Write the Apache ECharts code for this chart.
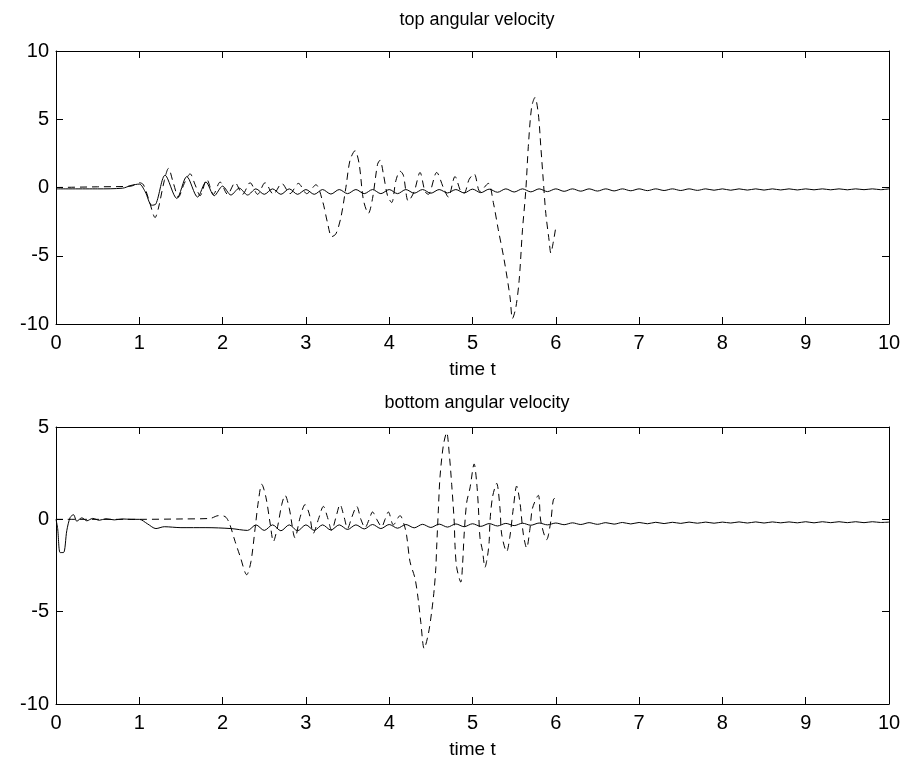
<!DOCTYPE html>
<html>
<head>
<meta charset="utf-8">
<title>angular velocity</title>
<script src="https://cdn.jsdelivr.net/npm/echarts@6/dist/echarts.min.js"></script>
<style>
  html, body { margin: 0; padding: 0; background: #fff; }
  #chart { width: 908px; height: 761px; }
</style>
</head>
<body>
<div id="chart"></div>
<script>
// time axis ticks and y ticks
const xTicks = [0, 1, 2, 3, 4, 5, 6, 7, 8, 9, 10];
const topYRange = [-10, 10];
const bottomYRange = [-10, 5];

// top plot, solid line [t, value]
const topSolid = [
  [0, -0.1], [0.5, -0.1], [0.8, -0.05], [0.9, 0.15], [1.0, 0.25], [1.07, -0.3], [1.15, -1.3], [1.2, -1.2],
  [1.31, 0.9], [1.45, -0.8], [1.57, 0.8], [1.7, -0.7], [1.8, 0.4], [1.9, -0.6], [2.0, 0.1], [2.1, -0.55],
  [2.2, -0.05], [2.3, -0.55], [2.4, -0.1], [2.5, -0.5], [2.6, -0.1], [2.7, -0.5], [2.8, -0.1], [2.9, -0.5],
  [3.0, -0.15], [3.1, -0.5], [3.2, -0.15], [3.3, -0.48], [3.4, -0.15], [3.5, -0.45], [3.6, -0.15], [3.7, -0.45],
  [3.8, -0.15], [3.9, -0.45], [4.0, -0.15], [4.1, -0.45], [4.2, -0.15], [4.3, -0.42], [4.4, -0.15], [4.5, -0.42],
  [4.6, -0.15], [4.7, -0.4], [4.8, -0.15], [4.9, -0.4], [5.0, -0.12], [5.1, -0.38], [5.2, -0.12], [5.3, -0.35],
  [5.4, -0.1], [5.5, -0.33], [5.6, -0.1], [5.7, -0.32], [5.8, -0.1], [5.9, -0.3], [6.0, -0.1], [6.1, -0.28],
  [6.2, -0.1], [6.3, -0.27], [6.4, -0.1], [6.5, -0.26], [6.6, -0.1], [6.7, -0.25], [6.8, -0.1], [6.9, -0.24],
  [7.0, -0.1], [7.1, -0.23], [7.2, -0.1], [7.3, -0.22], [7.4, -0.1], [7.5, -0.22], [7.6, -0.1], [7.7, -0.21],
  [7.8, -0.1], [7.9, -0.2], [8.0, -0.1], [8.1, -0.2], [8.2, -0.1], [8.3, -0.19], [8.4, -0.1], [8.5, -0.19],
  [8.6, -0.1], [8.7, -0.18], [8.8, -0.1], [8.9, -0.18], [9.0, -0.1], [9.1, -0.17], [9.2, -0.1], [9.3, -0.17],
  [9.4, -0.1], [9.5, -0.17], [9.6, -0.1], [9.7, -0.16], [9.8, -0.1], [9.9, -0.16], [10.0, -0.1]
];

// top plot, dashed line (ends at t = 6)
const topDashed = [
  [0, 0], [0.5, 0.05], [0.9, 0.1], [1.0, 0.35], [1.05, 0.2], [1.12, -1.0], [1.19, -2.2], [1.23, -1.5],
  [1.3, 0.5], [1.35, 1.4], [1.41, 0.3], [1.47, -0.7], [1.54, 0.3], [1.61, 1.0], [1.67, 0.2], [1.73, -0.6],
  [1.81, 0.6], [1.89, -0.5], [1.97, 0.4], [2.06, -0.5], [2.15, 0.35], [2.24, -0.5], [2.33, 0.35], [2.42, -0.5],
  [2.51, 0.35], [2.61, -0.5], [2.71, 0.3], [2.81, -0.45], [2.91, 0.3], [3.01, -0.45], [3.12, 0.2], [3.2, -1.0],
  [3.26, -2.6], [3.31, -3.6], [3.36, -3.4], [3.42, -2.2], [3.48, 0.0], [3.53, 2.0], [3.59, 2.7], [3.64, 1.7],
  [3.69, -0.9], [3.75, -1.9], [3.8, -0.8], [3.86, 1.7], [3.89, 2.0], [3.93, 1.0], [3.98, -0.6], [4.03, -1.1],
  [4.08, 0.5], [4.13, 1.2], [4.17, 0.9], [4.23, -1.0], [4.3, -0.3], [4.37, 1.1], [4.43, -0.3], [4.47, -0.5],
  [4.57, 1.1], [4.65, 0.0], [4.71, -0.7], [4.79, 0.8], [4.86, -0.3], [4.9, -0.4], [4.96, 0.6], [5.02, 1.0],
  [5.09, -0.3], [5.19, 0.3], [5.25, -1.1], [5.31, -3.1], [5.38, -5.3], [5.45, -8.0], [5.48, -9.6], [5.52, -8.8],
  [5.56, -6.8], [5.6, -3.1], [5.64, -0.2], [5.67, 3.0], [5.71, 5.9], [5.75, 6.6], [5.79, 5.4], [5.82, 3.0],
  [5.85, 0.5], [5.88, -1.9], [5.92, -3.9], [5.94, -4.8], [5.97, -4.0], [6.0, -2.9]
];

// bottom plot, solid line
const bottomSolid = [
  [0, 0], [0.02, -0.5], [0.05, -1.8], [0.09, -1.8], [0.13, -0.6], [0.17, 0.1], [0.21, 0.25], [0.25, -0.1],
  [0.31, 0.08], [0.37, -0.08], [0.44, 0.05], [0.52, -0.05], [0.6, 0.03], [0.7, -0.03], [0.8, 0.02], [0.9, 0],
  [1.0, 0], [1.1, -0.25], [1.2, -0.5], [1.3, -0.4], [1.5, -0.45], [1.8, -0.45], [2.1, -0.5], [2.3, -0.6],
  [2.4, -0.3], [2.5, -0.6], [2.6, -0.3], [2.7, -0.62], [2.8, -0.3], [2.9, -0.62], [3.0, -0.3], [3.1, -0.6],
  [3.2, -0.3], [3.3, -0.58], [3.4, -0.3], [3.5, -0.55], [3.6, -0.3], [3.7, -0.52], [3.8, -0.28], [3.9, -0.5],
  [4.0, -0.28], [4.1, -0.48], [4.2, -0.28], [4.3, -0.46], [4.4, -0.27], [4.5, -0.44], [4.6, -0.26], [4.7, -0.42],
  [4.8, -0.25], [4.9, -0.4], [5.0, -0.24], [5.1, -0.38], [5.2, -0.23], [5.3, -0.36], [5.4, -0.22], [5.5, -0.34],
  [5.6, -0.21], [5.7, -0.32], [5.8, -0.2], [5.9, -0.3], [6.0, -0.2], [6.1, -0.29], [6.2, -0.19], [6.3, -0.28],
  [6.4, -0.18], [6.5, -0.27], [6.6, -0.18], [6.7, -0.26], [6.8, -0.17], [6.9, -0.25], [7.0, -0.17], [7.1, -0.24],
  [7.2, -0.16], [7.3, -0.23], [7.4, -0.16], [7.5, -0.22], [7.6, -0.15], [7.7, -0.21], [7.8, -0.15], [7.9, -0.21],
  [8.0, -0.15], [8.1, -0.2], [8.2, -0.14], [8.3, -0.2], [8.4, -0.14], [8.5, -0.2], [8.6, -0.14], [8.7, -0.19],
  [8.8, -0.14], [8.9, -0.19], [9.0, -0.13], [9.1, -0.19], [9.2, -0.13], [9.3, -0.18], [9.4, -0.13], [9.5, -0.18],
  [9.6, -0.13], [9.7, -0.18], [9.8, -0.13], [9.9, -0.17], [10.0, -0.15]
];

// bottom plot, dashed line (ends at t = 6)
const bottomDashed = [
  [0, 0], [1.0, 0], [1.5, 0.02], [1.85, 0.05], [1.95, 0.2], [2.03, 0.15], [2.08, -0.2], [2.15, -1.2],
  [2.21, -2.0], [2.29, -3.0], [2.34, -2.3], [2.39, -0.5], [2.43, 1.0], [2.47, 1.9], [2.52, 1.2], [2.57, -0.2],
  [2.61, -1.2], [2.66, -0.4], [2.71, 0.8], [2.75, 1.3], [2.8, 0.6], [2.87, -1.0], [2.93, 0.1], [2.99, 0.8],
  [3.04, 0.3], [3.09, -0.75], [3.15, 0.0], [3.21, 0.7], [3.26, 0.1], [3.31, -0.6], [3.36, 0.1], [3.41, 0.8],
  [3.46, 0.1], [3.5, -0.5], [3.55, 0.1], [3.61, 0.7], [3.66, 0.0], [3.71, -0.45], [3.76, 0.0], [3.8, 0.4],
  [3.85, 0.0], [3.91, -0.4], [3.95, 0.0], [3.99, 0.4], [4.05, -0.3], [4.13, 0.2], [4.18, -0.3], [4.21, -0.9],
  [4.25, -2.3], [4.31, -3.2], [4.35, -4.4], [4.38, -5.6], [4.42, -7.0], [4.47, -6.2], [4.51, -5.0], [4.54, -3.8],
  [4.56, -2.6], [4.57, -1.5], [4.59, 0.5], [4.61, 2.3], [4.65, 4.0], [4.69, 4.7], [4.72, 3.6], [4.75, 1.9],
  [4.78, -0.1], [4.79, -1.4], [4.81, -2.6], [4.86, -3.4], [4.88, -2.5], [4.9, -0.8], [4.93, 0.9], [4.97, 1.7],
  [5.02, 3.0], [5.05, 2.0], [5.07, 0.7], [5.09, -1.0], [5.12, -1.7], [5.15, -2.6], [5.18, -2.0], [5.2, -1.2],
  [5.21, -0.1], [5.24, 1.2], [5.29, 1.95], [5.33, 0.6], [5.35, -0.8], [5.41, -1.75], [5.45, -0.9], [5.49, 0.6],
  [5.53, 1.8], [5.57, 0.9], [5.61, -0.8], [5.65, -1.55], [5.69, -0.5], [5.72, 0.6], [5.79, 1.3], [5.82, -0.1],
  [5.89, -1.1], [5.94, -0.1], [5.97, 1.05], [6.0, 1.2]
];

const font = 'Liberation Sans, Arial, Helvetica, sans-serif';
const black = '#000';

function xAxisPair(gridIndex) {
  const base = {
    type: 'value', gridIndex: gridIndex,
    min: xTicks[0], max: xTicks[xTicks.length - 1], interval: 1,
    axisLine: { onZero: false, lineStyle: { color: black, width: 1 } },
    axisTick: { inside: true, length: 7, lineStyle: { color: black } },
    splitLine: { show: false }
  };
  return [
    Object.assign({}, base, {
      position: 'bottom',
      axisLabel: { color: black, fontSize: 20, fontFamily: font, margin: 9 },
      name: 'time t', nameLocation: 'middle', nameGap: 36,
      nameTextStyle: { color: black, fontSize: 19, fontFamily: font }
    }),
    Object.assign({}, base, { position: 'top', axisLabel: { show: false } })
  ];
}

function yAxisPair(gridIndex, range) {
  const base = {
    type: 'value', gridIndex: gridIndex,
    min: range[0], max: range[1], interval: 5,
    axisLine: { onZero: false, lineStyle: { color: black, width: 1 } },
    axisTick: { inside: true, length: 7, lineStyle: { color: black } },
    splitLine: { show: false }
  };
  return [
    Object.assign({}, base, {
      position: 'left',
      axisLabel: { color: black, fontSize: 20, fontFamily: font, margin: 7 }
    }),
    Object.assign({}, base, { position: 'right', axisLabel: { show: false } })
  ];
}

function line(data, xi, yi, dashed) {
  return {
    type: 'line', data: data, xAxisIndex: xi, yAxisIndex: yi,
    showSymbol: false, smooth: 0.3, silent: true, animation: false,
    lineStyle: { color: black, width: 1, type: dashed ? [7, 5] : 'solid' }
  };
}

const chart = echarts.init(document.getElementById('chart'), null, { renderer: 'canvas' });
chart.setOption({
  backgroundColor: '#fff',
  animation: false,
  title: [
    { text: 'top angular velocity', left: 472, top: 6, textAlign: 'center',
      textStyle: { color: black, fontSize: 18, fontWeight: 'normal', fontFamily: font } },
    { text: 'bottom angular velocity', left: 472, top: 389, textAlign: 'center',
      textStyle: { color: black, fontSize: 18, fontWeight: 'normal', fontFamily: font } }
  ],
  grid: [
    { left: 56, top: 51, width: 833, height: 273 },
    { left: 56, top: 427, width: 833, height: 277 }
  ],
  xAxis: xAxisPair(0).concat(xAxisPair(1)),
  yAxis: yAxisPair(0, topYRange).concat(yAxisPair(1, bottomYRange)),
  series: [
    line(topSolid, 0, 0, false),
    line(topDashed, 0, 0, true),
    line(bottomSolid, 2, 2, false),
    line(bottomDashed, 2, 2, true)
  ]
});
</script>
</body>
</html>
